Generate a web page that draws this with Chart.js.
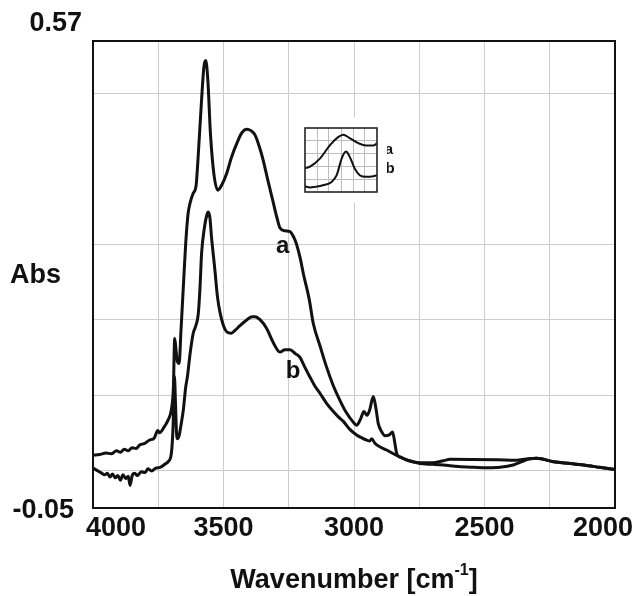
<!DOCTYPE html>
<html>
<head>
<meta charset="utf-8">
<script src="https://cdn.jsdelivr.net/npm/chart.js@4.4.1/dist/chart.umd.min.js"></script>
<style>
  html, body { margin: 0; padding: 0; background: #fff; }
  #wrap { position: relative; width: 643px; height: 596px; }
  #main { position: absolute; left: 0; top: 0; }
  #inset { position: absolute; left: 295px; top: 117px; }
</style>
</head>
<body>
<div id="wrap">
  <canvas id="main" width="643" height="596"></canvas>
  <canvas id="inset" width="92" height="86"></canvas>
</div>
<script>
// Spectrum a (upper curve)
const wnA = [4000, 3975, 3950, 3930, 3910, 3895, 3880, 3865, 3850, 3835, 3820, 3800, 3785, 3765, 3752, 3745, 3730, 3712, 3700, 3692, 3687, 3682, 3677, 3670, 3663, 3654, 3645, 3636, 3628, 3616, 3605, 3597, 3584, 3575, 3568, 3560, 3550, 3537, 3522, 3505, 3488, 3470, 3449, 3430, 3411, 3395, 3379, 3363, 3348, 3330, 3309, 3295, 3284, 3265, 3245, 3230, 3220, 3205, 3194, 3171, 3156, 3130, 3105, 3080, 3054, 3030, 3003, 2990, 2975, 2962, 2950, 2940, 2926, 2915, 2907, 2895, 2881, 2865, 2852, 2843, 2836, 2820, 2798, 2770, 2747, 2700, 2658, 2632, 2550, 2450, 2377, 2340, 2300, 2236, 2170, 2121, 2060, 2000];
const absA = [0.020, 0.021, 0.023, 0.022, 0.026, 0.024, 0.028, 0.026, 0.030, 0.029, 0.034, 0.036, 0.040, 0.043, 0.053, 0.050, 0.056, 0.067, 0.080, 0.110, 0.175, 0.160, 0.145, 0.142, 0.185, 0.243, 0.300, 0.340, 0.355, 0.368, 0.378, 0.417, 0.492, 0.536, 0.544, 0.518, 0.447, 0.394, 0.372, 0.380, 0.394, 0.415, 0.434, 0.448, 0.453, 0.451, 0.445, 0.430, 0.412, 0.385, 0.355, 0.335, 0.322, 0.318, 0.317, 0.309, 0.300, 0.280, 0.261, 0.226, 0.195, 0.165, 0.137, 0.113, 0.093, 0.077, 0.064, 0.060, 0.068, 0.078, 0.073, 0.080, 0.098, 0.080, 0.062, 0.052, 0.046, 0.047, 0.051, 0.035, 0.022, 0.017, 0.0137, 0.011, 0.010, 0.010, 0.0127, 0.0147, 0.0145, 0.014, 0.0135, 0.015, 0.016, 0.0115, 0.009, 0.007, 0.004, 0.001];

// Spectrum b (lower curve)
const wnB = [4000, 3985, 3970, 3955, 3945, 3935, 3925, 3915, 3905, 3895, 3885, 3875, 3865, 3858, 3850, 3840, 3830, 3815, 3800, 3790, 3775, 3760, 3743, 3725, 3711, 3700, 3693, 3688, 3684, 3680, 3676, 3670, 3662, 3654, 3645, 3638, 3628, 3616, 3608, 3600, 3596, 3590, 3584, 3574, 3563, 3558, 3552, 3546, 3533, 3523, 3513, 3500, 3488, 3470, 3455, 3437, 3410, 3390, 3379, 3360, 3334, 3310, 3284, 3265, 3245, 3225, 3207, 3190, 3169, 3150, 3130, 3105, 3079, 3060, 3041, 3015, 2990, 2970, 2951, 2940, 2932, 2920, 2900, 2875, 2849, 2825, 2798, 2770, 2747, 2700, 2658, 2600, 2540, 2492, 2440, 2390, 2357, 2330, 2300, 2236, 2170, 2121, 2060, 2000];
const absB = [0.003, 0.000, -0.003, -0.006, -0.004, -0.009, -0.005, -0.010, -0.007, -0.013, -0.006, -0.011, -0.008, -0.020, -0.007, -0.004, -0.007, -0.002, -0.003, 0.002, -0.001, 0.003, 0.004, 0.008, 0.012, 0.022, 0.060, 0.125, 0.090, 0.050, 0.042, 0.046, 0.062, 0.080, 0.110, 0.125, 0.155, 0.182, 0.190, 0.200, 0.210, 0.243, 0.288, 0.320, 0.340, 0.343, 0.335, 0.310, 0.266, 0.230, 0.209, 0.192, 0.184, 0.182, 0.186, 0.192, 0.200, 0.204, 0.204, 0.200, 0.188, 0.170, 0.157, 0.160, 0.160, 0.155, 0.150, 0.138, 0.124, 0.112, 0.102, 0.089, 0.078, 0.071, 0.065, 0.054, 0.047, 0.043, 0.040, 0.039, 0.042, 0.036, 0.031, 0.027, 0.022, 0.018, 0.014, 0.011, 0.009, 0.008, 0.007, 0.005, 0.004, 0.0034, 0.004, 0.007, 0.0115, 0.015, 0.016, 0.0115, 0.009, 0.007, 0.004, 0.001];

// Axes
const xGrid = [2250, 2500, 2750, 3000, 3250, 3500, 3750];
const yGrid = [0, 0.1, 0.2, 0.3, 0.5];
const xTickLabels = [4000, 3500, 3000, 2500, 2000];
const yTickLabels = ['0.57', '-0.05'];

// Inset (arbitrary units)
const insetTA = [0, 7, 21, 35, 46, 53, 62, 74, 85, 95, 100];
const insetA = [37, 39.5, 52.6, 73.7, 85.8, 89.5, 84.2, 76.3, 72.6, 72.6, 76.3];
const insetTB = [0, 7, 14, 25, 37, 44, 51, 57, 62, 69, 76, 85, 95, 100];
const insetB = [9, 7, 8, 10.5, 15.8, 26.3, 52.6, 63.2, 55.3, 36.8, 26.3, 23.7, 24.7, 26.3];
const insetXGrid = [17, 33, 50, 67, 83];
const insetYGrid = [20, 40, 60, 80];

const FONT = 'bold 27px "Liberation Sans", Arial, sans-serif';
const SUP_FONT = 'bold 16px "Liberation Sans", Arial, sans-serif';

function pts(xs, ys) {
  return xs.map((x, i) => ({ x: x, y: ys[i] }));
}

function curve(label, data, width) {
  return {
    label: label,
    data: data,
    borderColor: '#111',
    borderWidth: width,
    pointRadius: 0,
    fill: false,
    cubicInterpolationMode: 'monotone'
  };
}

// frame + all the text around the main plot
const mainDecor = {
  id: 'mainDecor',
  afterDraw(chart) {
    const ctx = chart.ctx;
    const a = chart.chartArea;
    const xs = chart.scales.x;
    const ys = chart.scales.y;
    ctx.save();
    ctx.strokeStyle = '#111';
    ctx.lineWidth = 2;
    ctx.strokeRect(a.left, a.top, a.right - a.left, a.bottom - a.top);

    ctx.fillStyle = '#111';
    ctx.font = FONT;
    ctx.textBaseline = 'middle';

    // y end labels
    ctx.textAlign = 'right';
    ctx.fillText(yTickLabels[0], a.left - 11, ys.getPixelForValue(0.57) - 17);
    ctx.fillText(yTickLabels[1], a.left - 19, ys.getPixelForValue(-0.05) + 3);
    ctx.textAlign = 'left';
    ctx.fillText('Abs', 10, 276);

    // x tick labels
    ctx.textAlign = 'center';
    xTickLabels.forEach((v, i) => {
      let px = xs.getPixelForValue(v);
      if (i === 0) px += 23;
      if (i === xTickLabels.length - 1) px -= 12;
      ctx.fillText(String(v), px, a.bottom + 21);
    });

    // x title with superscript
    const t1 = 'Wavenumber [cm';
    const sup = '-1';
    const t2 = ']';
    const w1 = ctx.measureText(t1).width;
    ctx.font = SUP_FONT;
    const ws = ctx.measureText(sup).width;
    ctx.font = FONT;
    const w2 = ctx.measureText(t2).width;
    const total = w1 + ws + w2;
    const sx = (a.left + a.right) / 2 - total / 2;
    const ty = 581;
    ctx.textAlign = 'left';
    ctx.fillText(t1, sx, ty);
    ctx.font = SUP_FONT;
    ctx.fillText(sup, sx + w1, ty - 10);
    ctx.font = FONT;
    ctx.fillText(t2, sx + w1 + ws, ty);

    // curve labels
    ctx.textAlign = 'center';
    ctx.font = 'bold 24px "Liberation Sans", Arial, sans-serif';
    ctx.fillText('a', xs.getPixelForValue(3273), ys.getPixelForValue(0.298));
    ctx.fillText('b', xs.getPixelForValue(3233), ys.getPixelForValue(0.131));

    // inset labels
    ctx.font = 'bold 15px "Liberation Sans", Arial, sans-serif';
    ctx.fillText('a', 389, 150);
    ctx.fillText('b', 390, 169);
    ctx.restore();
  }
};

new Chart(document.getElementById('main'), {
  type: 'line',
  data: {
    datasets: [
      curve('a', pts(wnA, absA), 3),
      curve('b', pts(wnB, absB), 3)
    ]
  },
  options: {
    responsive: false,
    animation: false,
    layout: { padding: { left: 93, right: 28, top: 41, bottom: 88 } },
    plugins: { legend: { display: false }, tooltip: { enabled: false } },
    scales: {
      x: {
        type: 'linear',
        reverse: true,
        min: 2000,
        max: 4000,
        afterBuildTicks: s => { s.ticks = xGrid.map(v => ({ value: v })); },
        ticks: { display: false },
        grid: { color: '#cdcdcd', lineWidth: 1, drawTicks: false },
        border: { display: false }
      },
      y: {
        type: 'linear',
        min: -0.05,
        max: 0.57,
        afterBuildTicks: s => { s.ticks = yGrid.map(v => ({ value: v })); },
        ticks: { display: false },
        grid: { color: '#cdcdcd', lineWidth: 1, drawTicks: false },
        border: { display: false }
      }
    }
  },
  plugins: [mainDecor]
});

// inset: white backing + box
const insetDecor = {
  id: 'insetDecor',
  beforeDraw(chart) {
    const ctx = chart.ctx;
    ctx.save();
    ctx.fillStyle = '#fff';
    ctx.fillRect(0, 0, chart.width, chart.height);
    ctx.restore();
  },
  afterDraw(chart) {
    const ctx = chart.ctx;
    const a = chart.chartArea;
    ctx.save();
    ctx.strokeStyle = '#222';
    ctx.lineWidth = 1.6;
    ctx.strokeRect(a.left, a.top, a.right - a.left, a.bottom - a.top);
    ctx.restore();
  }
};

new Chart(document.getElementById('inset'), {
  type: 'line',
  data: {
    datasets: [
      curve('a', pts(insetTA, insetA), 2),
      curve('b', pts(insetTB, insetB), 2)
    ]
  },
  options: {
    responsive: false,
    animation: false,
    layout: { padding: { left: 10, right: 10, top: 11, bottom: 11 } },
    plugins: { legend: { display: false }, tooltip: { enabled: false } },
    scales: {
      x: {
        type: 'linear', min: 0, max: 100,
        afterBuildTicks: s => { s.ticks = insetXGrid.map(v => ({ value: v })); },
        ticks: { display: false },
        grid: { color: '#bdbdbd', lineWidth: 1, drawTicks: false },
        border: { display: false }
      },
      y: {
        type: 'linear', min: 0, max: 100,
        afterBuildTicks: s => { s.ticks = insetYGrid.map(v => ({ value: v })); },
        ticks: { display: false },
        grid: { color: '#bdbdbd', lineWidth: 1, drawTicks: false },
        border: { display: false }
      }
    }
  },
  plugins: [insetDecor]
});
</script>
</body>
</html>
